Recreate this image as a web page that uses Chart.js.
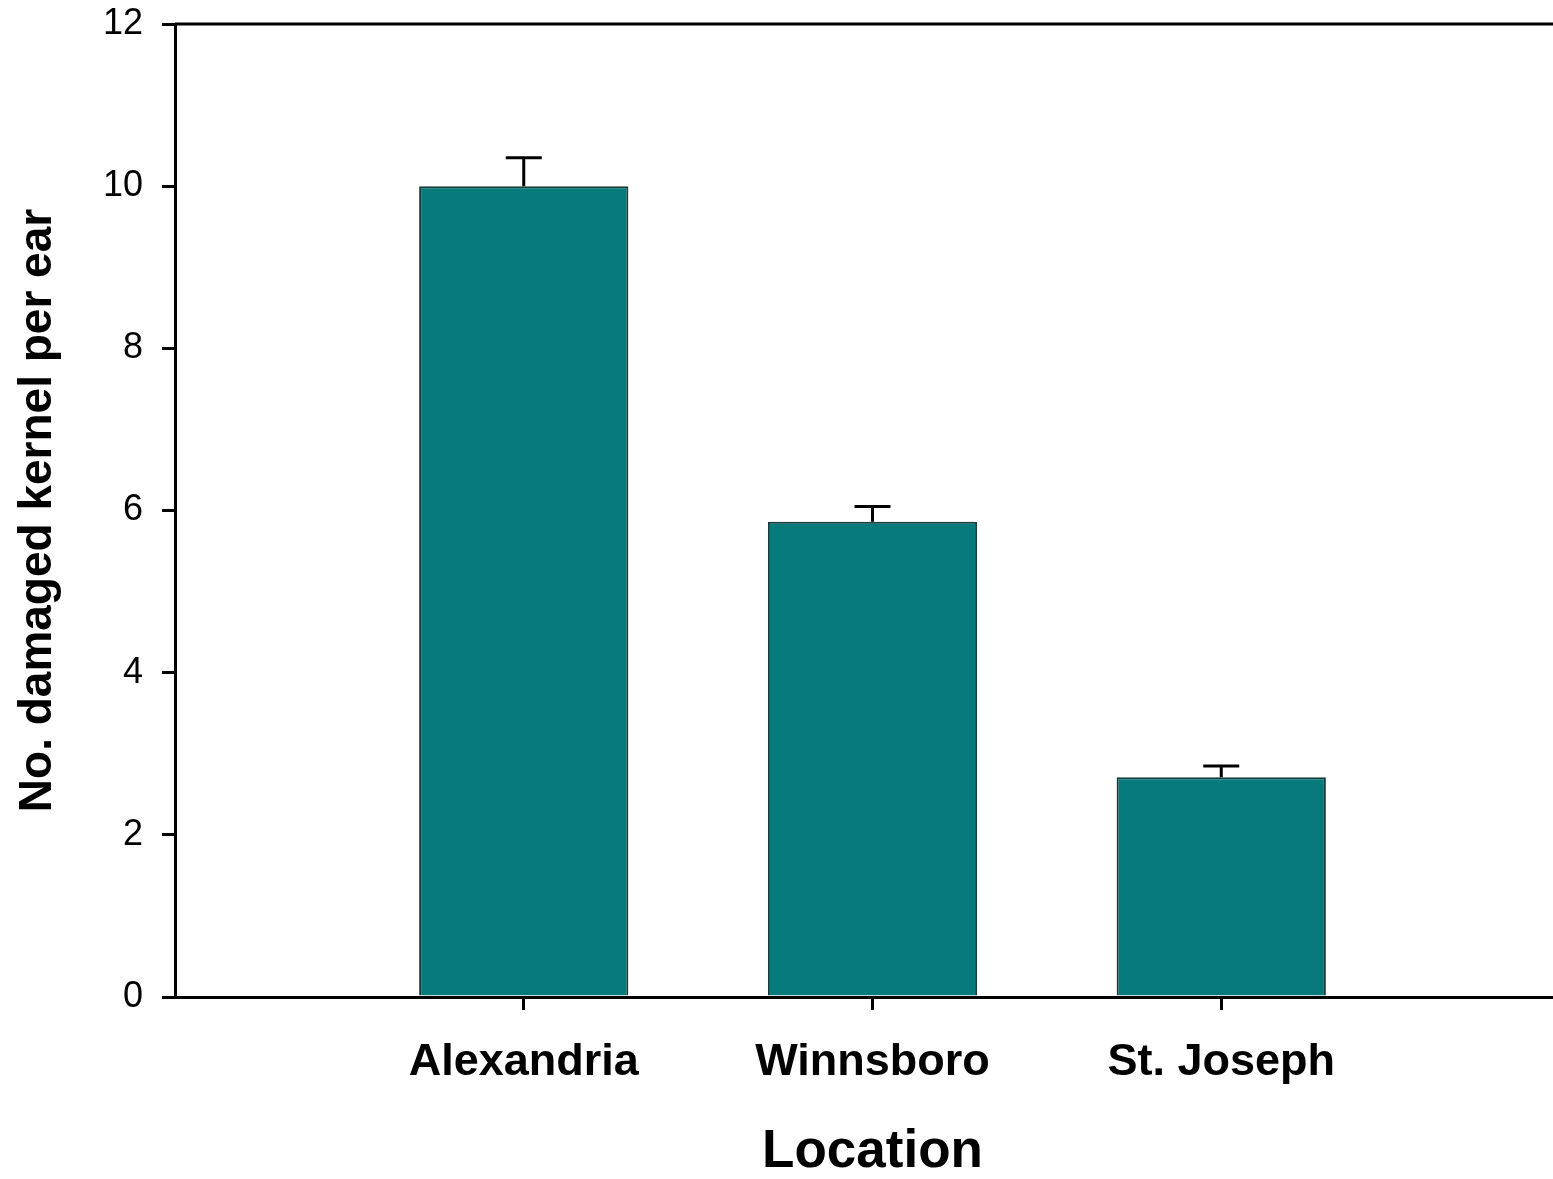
<!DOCTYPE html>
<html>
<head>
<meta charset="utf-8">
<script src="https://cdn.jsdelivr.net/npm/chart.js@4/dist/chart.umd.min.js"></script>
<style>
html,body{margin:0;padding:0;background:#fff;overflow:hidden;}
#wrap{width:1570px;height:1179px;}
</style>
</head>
<body>
<div id="wrap"><canvas id="c" width="1570" height="1179"></canvas></div>
<script>
const categories = ['Alexandria', 'Winnsboro', 'St. Joseph'];
const values = [10.0, 5.86, 2.71];
const errors = [0.35, 0.19, 0.14];
const yTicks = [0, 2, 4, 6, 8, 10, 12];

const FONT = '"Liberation Sans", Arial, Helvetica, sans-serif';

const errorBarPlugin = {
  id: 'errorBars',
  afterDatasetsDraw(chart) {
    const ctx = chart.ctx;
    const meta = chart.getDatasetMeta(0);
    const ys = chart.scales.y;
    ctx.save();
    ctx.strokeStyle = '#000';
    ctx.lineWidth = 3;
    meta.data.forEach((bar, i) => {
      const x = bar.x;
      const yTop = ys.getPixelForValue(values[i]);
      const yErr = ys.getPixelForValue(values[i] + errors[i]);
      ctx.beginPath();
      ctx.moveTo(x, yTop);
      ctx.lineTo(x, yErr);
      ctx.moveTo(x - 18, yErr);
      ctx.lineTo(x + 18, yErr);
      ctx.stroke();
    });
    ctx.restore();
  }
};

const framePlugin = {
  id: 'frame',
  afterDraw(chart) {
    const a = chart.chartArea;
    const ctx = chart.ctx;
    ctx.save();
    ctx.strokeStyle = '#000';
    ctx.lineWidth = 3;
    ctx.beginPath();
    ctx.moveTo(a.left, a.top);
    ctx.lineTo(a.right, a.top);
    ctx.lineTo(a.right, a.bottom);
    ctx.stroke();
    ctx.restore();
  }
};

new Chart(document.getElementById('c'), {
  type: 'bar',
  data: {
    datasets: [{
      data: categories.map((c, i) => ({ x: i + 1, y: values[i] })),
      backgroundColor: '#077b7b',
      borderColor: '#163c3c',
      borderWidth: 2,
      barPercentage: 0.6,
      categoryPercentage: 1.0
    }]
  },
  options: {
    responsive: false,
    animation: false,
    devicePixelRatio: 1,
    layout: { padding: { top: 24, right: 0, left: 0, bottom: 0 } },
    plugins: { legend: { display: false }, tooltip: { enabled: false } },
    scales: {
      x: {
        type: 'linear',
        min: 0,
        max: 4,
        offset: false,
        afterBuildTicks: s => { s.ticks = categories.map((c, i) => ({ value: i + 1 })); },
        afterFit: s => { s.height = 182; s.paddingLeft = 0; s.paddingRight = 0; },
        ticks: {
          callback: v => categories[v - 1] || '',
          font: { family: FONT, size: 45, weight: 'bold' },
          color: '#000',
          padding: 26,
          maxRotation: 0,
          autoSkip: false
        },
        grid: { display: true, offset: false, drawOnChartArea: false, drawTicks: true, tickLength: 13, lineWidth: 3, color: '#000' },
        border: { display: true, width: 3, color: '#000' },
        title: {
          display: true,
          text: 'Location',
          font: { family: FONT, size: 53, weight: 'bold', lineHeight: 1 },
          color: '#000',
          padding: { top: 0, bottom: 0 }
        }
      },
      y: {
        min: 0,
        max: 12,
        afterBuildTicks: s => { s.ticks = yTicks.map(v => ({ value: v })); },
        afterFit: s => { s.width = 175; s.paddingTop = 0; s.paddingBottom = 0; },
        ticks: {
          font: { family: FONT, size: 36 },
          color: '#000',
          padding: 19
        },
        grid: { display: true, drawOnChartArea: false, drawTicks: true, tickLength: 13, lineWidth: 3, color: '#000' },
        border: { display: true, width: 3, color: '#000' },
        title: {
          display: true,
          text: 'No. damaged kernel per ear',
          font: { family: FONT, size: 46, weight: 'bold', lineHeight: 1 },
          color: '#000',
          padding: { top: 15, bottom: 0 }
        }
      }
    }
  },
  plugins: [errorBarPlugin, framePlugin]
});
</script>
</body>
</html>
